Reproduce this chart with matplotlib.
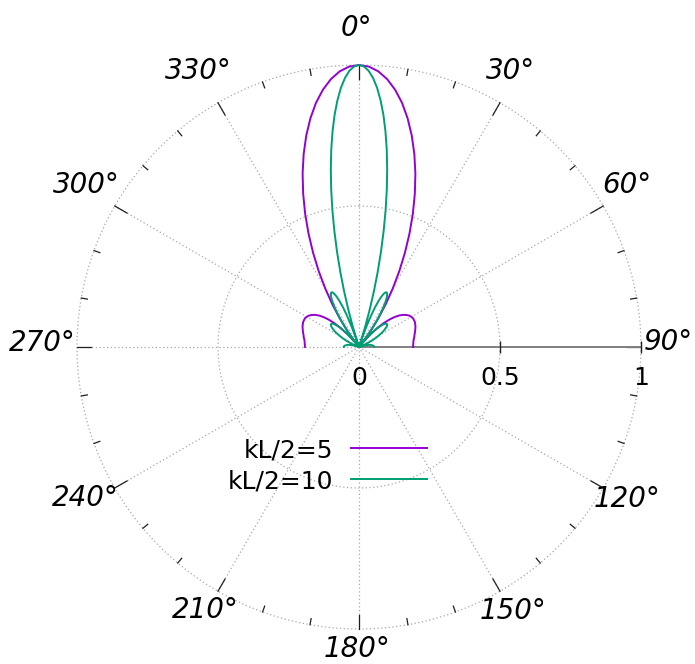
import numpy as np
import matplotlib
matplotlib.use("Agg")
import matplotlib.pyplot as plt
from matplotlib.lines import Line2D
from matplotlib.transforms import offset_copy

# Radiation pattern |F(theta)| for two line lengths (one half, mirrored about 0 deg)
series_names = ["kL/2=5", "kL/2=10"]
series_colors = ["#9400D3", "#009E73"]

angles_kl5 = [0, 2, 4, 6, 8, 10, 12, 14, 16, 18, 20, 22, 24, 26, 28, 30, 32, 34, 36, 38,
              38.9,
              40, 42, 44, 46, 48, 50, 52, 54, 56, 58, 60, 62, 64, 66, 68, 70, 72, 74, 76,
              78, 80, 82, 84, 86, 88, 90]
values_kl5 = [1.000, 0.995, 0.980, 0.955, 0.921, 0.879, 0.829, 0.773, 0.712, 0.647,
              0.579, 0.510, 0.440, 0.371, 0.304, 0.239, 0.178, 0.121, 0.068, 0.021,
              0.000,
              0.023, 0.061, 0.094, 0.122, 0.146, 0.166, 0.182, 0.194, 0.203, 0.210,
              0.214, 0.217, 0.217, 0.217, 0.215, 0.213, 0.210, 0.207, 0.204, 0.201,
              0.199, 0.196, 0.194, 0.193, 0.192, 0.192]

angles_kl10 = [0, 1, 2, 3, 4, 5, 6, 7, 8, 9, 10, 11, 12, 13, 14, 15, 16, 17, 18,
               18.3,
               19, 20, 21, 22, 23, 24, 25, 26, 27, 28, 29, 30, 31, 32, 33, 34, 35, 36, 37, 38,
               38.9,
               39, 40, 41, 42, 43, 44, 45, 46, 47, 48, 49, 50, 51, 52, 53, 54, 55, 56, 57,
               58, 59, 60, 61, 62, 63, 64, 65, 66, 67, 68, 69, 70,
               70.5,
               71, 72, 73, 74, 75, 76, 77, 78, 79, 80, 81, 82, 83, 84, 85, 86, 87, 88, 89, 90]
values_kl10 = [1.000, 0.995, 0.980, 0.955, 0.921, 0.878, 0.828, 0.770, 0.707, 0.639,
               0.568, 0.495, 0.420, 0.346, 0.273, 0.203, 0.136, 0.074, 0.017,
               0.000,
               0.035, 0.080, 0.119, 0.152, 0.177, 0.196, 0.209, 0.216, 0.217, 0.213,
               0.204, 0.192, 0.176, 0.157, 0.136, 0.114, 0.091, 0.067, 0.044, 0.020,
               0.000,
               0.002, 0.022, 0.042, 0.059, 0.075, 0.089, 0.100, 0.110, 0.117, 0.123,
               0.126, 0.128, 0.128, 0.127, 0.124, 0.120, 0.115, 0.109, 0.103, 0.096,
               0.088, 0.080, 0.072, 0.064, 0.055, 0.047, 0.039, 0.031, 0.024, 0.016,
               0.010, 0.003,
               0.000,
               0.003, 0.009, 0.014, 0.019, 0.024, 0.028, 0.032, 0.036, 0.039, 0.042,
               0.044, 0.046, 0.048, 0.050, 0.051, 0.052, 0.053, 0.054, 0.054, 0.054]

angle_ticks = [0, 30, 60, 90, 120, 150, 180, 210, 240, 270, 300, 330]
angle_labels = ["0°", "30°", "60°", "90°", "120°", "150°", "180°",
                "210°", "240°", "270°", "300°", "330°"]
r_ticks = [0, 0.5, 1]
r_labels = ["0", "0.5", "1"]


def mirrored(deg, val):
    deg = np.asarray(deg, float)
    val = np.asarray(val, float)
    th = np.deg2rad(np.concatenate([-deg[::-1], deg[1:]]))
    r = np.concatenate([val[::-1], val[1:]])
    return th, r


W, H = 695, 664
fig = plt.figure(figsize=(W / 100, H / 100), dpi=100)
cx, cy, R = 359, 347, 282
ax = fig.add_axes([(cx - R) / W, (H - cy - R) / H, 2 * R / W, 2 * R / H],
                  projection="polar")
ax.set_theta_zero_location("N")
ax.set_theta_direction(-1)
ax.set_ylim(0, 1)
ax.grid(False)
ax.set_xticks([])
ax.set_yticks([])
ax.spines["polar"].set_visible(False)
ax.patch.set_visible(False)

grid_kw = dict(color="#a8a8a8", lw=0.9, ls=(0, (1, 2)), clip_on=False, zorder=1)
full = np.linspace(0, 2 * np.pi, 721)
for rr in (0.5, 1.0):
    ax.plot(full, np.full_like(full, rr), **grid_kw)
for d in angle_ticks:
    if d == 90:
        continue
    t = np.deg2rad(d)
    ax.plot([t, t], [0, 1], **grid_kw)

# tick marks on the outer circle
for d in range(0, 360, 10):
    t = np.deg2rad(d)
    ln = 0.05 if d % 30 == 0 else 0.022
    ax.plot([t, t], [1 - ln, 1], color="#202020", lw=0.9, clip_on=False, zorder=2)

# radial axis along 90 deg
ax.plot([np.pi / 2, np.pi / 2], [0, 1], color="#808080", lw=1.4, clip_on=False, zorder=2)
for v in r_ticks[1:]:
    ax.plot([np.pi / 2], [v], marker="|", markersize=9, mew=1.0, color="#202020",
            clip_on=False, zorder=3)
lab_tr = offset_copy(ax.transData, fig=fig, x=0, y=-38, units="dots")
for v, s in zip(r_ticks, r_labels):
    ax.text(np.pi / 2, v, s, transform=lab_tr, ha="center", va="baseline",
            fontsize=18, color="black")

# angle labels, anchored by (x centre, baseline) in pixels
label_anchor = [(356.5, 36.5), (511, 79), (626.5, 193), (668.5, 350),
                (627.5, 507), (513, 619), (357, 657), (205, 618),
                (85, 506), (42.5, 351), (86, 193), (198.5, 79)]
for s, (px, py) in zip(angle_labels, label_anchor):
    fig.text(px / W, 1 - py / H, s, ha="center", va="baseline", fontsize=20,
             style="italic", color="black")

# pattern curves
for (deg, val), col in zip([(angles_kl5, values_kl5), (angles_kl10, values_kl10)],
                           series_colors):
    th, r = mirrored(deg, val)
    ax.plot(th, r, color=col, lw=1.4, clip_on=False, zorder=4)

# key
key_y = [448, 479]
for name, col, yy in zip(series_names, series_colors, key_y):
    fy = 1 - yy / H
    fig.text(333 / W, fy, name, ha="right", va="center_baseline", fontsize=18)
    fig.add_artist(Line2D([351 / W, 427 / W], [fy, fy], color=col, lw=1.4,
                          transform=fig.transFigure))

fig.savefig("out.png", dpi=100)
